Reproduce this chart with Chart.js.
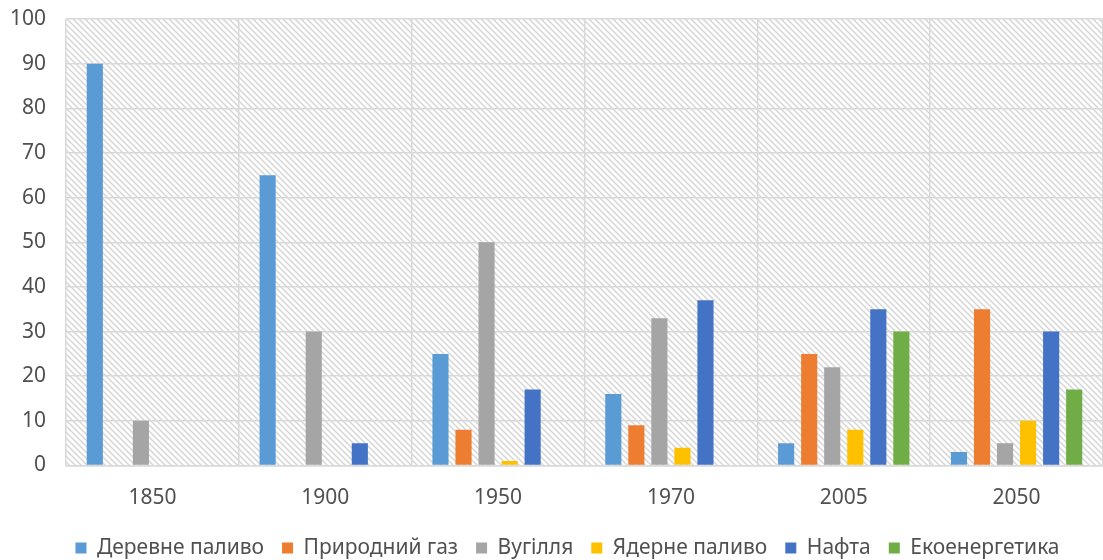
<!DOCTYPE html>
<html>
<head>
<meta charset="utf-8">
<script src="https://cdn.jsdelivr.net/npm/chart.js@4"></script>
<style>
    html, body { margin: 0; padding: 0; background: #ffffff; }
    #box { width: 1103px; height: 560px; }
</style>
</head>
<body>
<div id="box"><canvas id="grafico"></canvas></div>
<script>
// --- Dados ---
const roky = ['1850', '1900', '1950', '1970', '2005', '2050'];
const derevnePalyvo = [90, 65, 25, 16, 5, 3];
const pryrodnyiGaz = [0, 0, 8, 9, 25, 35];
const vuhillia = [10, 30, 50, 33, 22, 5];
const yadernePalyvo = [0, 0, 1, 4, 8, 10];
const nafta = [0, 5, 17, 37, 35, 30];
const ekoenerhetyka = [0, 0, 0, 0, 30, 17];

const textColor = '#505050';
const gridColor = '#d9d9d9';
const fontFamily = "'Noto Sans', 'DejaVu Sans', sans-serif";

// --- Fundo hachurado da área do gráfico ---
const fundoHachurado = {
    id: 'fundoHachurado',
    afterUpdate(chart) {
        // legenda um pouco deslocada para a direita, como no original
        const legenda = chart.legend;
        if (legenda) {
            legenda.left = 32;
            legenda.adjustHitBoxes();
        }
    },
    beforeDraw(chart) {
        const area = chart.chartArea;
        const ctx = chart.ctx;
        const tile = document.createElement('canvas');
        tile.width = 6;
        tile.height = 6;
        const g = tile.getContext('2d');
        g.fillStyle = '#ffffff';
        g.fillRect(0, 0, 6, 6);
        g.strokeStyle = '#d6d6d6';
        g.lineWidth = 1.5;
        g.beginPath();
        g.moveTo(-1, -1); g.lineTo(7, 7);
        g.moveTo(-4, 2); g.lineTo(1, 7);
        g.moveTo(5, -1); g.lineTo(10, 4);
        g.stroke();
        ctx.save();
        ctx.fillStyle = ctx.createPattern(tile, 'repeat');
        ctx.fillRect(area.left, area.top, area.right - area.left, area.bottom - area.top);
        ctx.restore();
    }
};

function serie(label, data, cor) {
    return {
        label: label,
        data: data,
        backgroundColor: cor,
        borderWidth: 0,
        categoryPercentage: 0.8,
        barPercentage: 0.7
    };
}

const ctx = document.getElementById('grafico');
const grafico = new Chart(ctx, {
    type: 'bar',
    data: {
        labels: roky,
        datasets: [
            serie('Деревне паливо', derevnePalyvo, '#5B9BD5'),
            serie('Природний газ', pryrodnyiGaz, '#ED7D31'),
            serie('Вугілля', vuhillia, '#A5A5A5'),
            serie('Ядерне паливо', yadernePalyvo, '#FFC000'),
            serie('Нафта', nafta, '#4472C4'),
            serie('Екоенергетика', ekoenerhetyka, '#70AD47')
        ]
    },
    options: {
        responsive: true,
        maintainAspectRatio: false,
        animation: false,
        layout: {
            padding: { top: 19, right: 0, left: 0, bottom: -8.5 }
        },
        scales: {
            x: {
                grid: {
                    color: gridColor,
                    lineWidth: 1.5,
                    drawTicks: false,
                    offset: true
                },
                border: { color: gridColor, width: 1.5 },
                ticks: {
                    color: textColor,
                    font: { family: fontFamily, size: 21 },
                    padding: 20
                },
                afterFit(scale) { scale.height = 54; }
            },
            y: {
                min: 0,
                max: 100,
                grid: {
                    color: gridColor,
                    lineWidth: 1.5,
                    drawTicks: false
                },
                border: { display: false },
                ticks: {
                    stepSize: 10,
                    color: textColor,
                    font: { family: fontFamily, size: 21 },
                    padding: 20
                },
                afterFit(scale) {
                    scale.width = 66;
                    scale.paddingTop = 0;
                    scale.paddingBottom = 0;
                }
            }
        },
        plugins: {
            legend: {
                display: true,
                position: 'bottom',
                labels: {
                    color: textColor,
                    font: { family: fontFamily, size: 21 },
                    boxWidth: 11,
                    boxHeight: 11,
                    padding: 18
                }
            },
            tooltip: { enabled: false }
        }
    },
    plugins: [fundoHachurado]
});
</script>
</body>
</html>
